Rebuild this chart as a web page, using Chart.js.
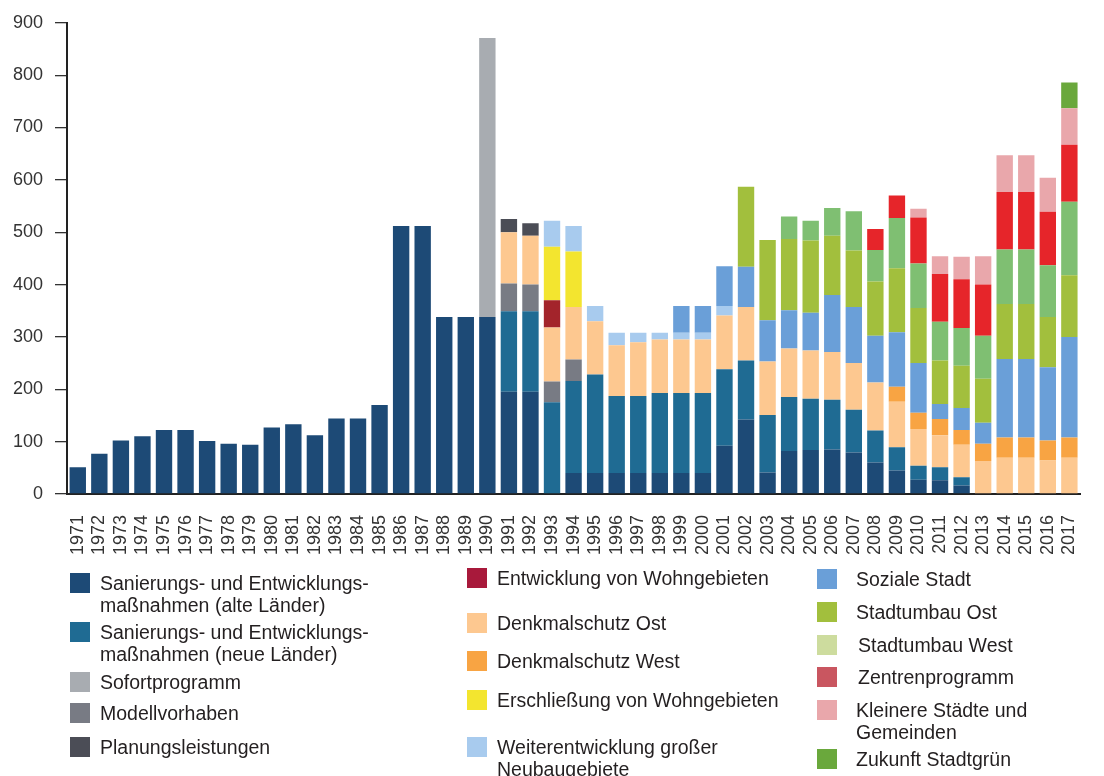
<!DOCTYPE html>
<html>
<head>
<meta charset="utf-8">
<script src="https://cdn.jsdelivr.net/npm/chart.js@4"></script>
<style>
  body { margin: 0; background: #fff; }
  #wrap { position: relative; width: 1104px; height: 776px; font-family: "Liberation Sans", Arial, sans-serif; color: #231f20; }
  #chart { position: absolute; left: 0; top: 0; }
  .item { position: absolute; }
  .sw { position: absolute; left: 0; top: 0; width: 20px; height: 20px; }
  .tx { position: absolute; top: -1px; font-size: 19.5px; line-height: 22px; white-space: nowrap; }
</style>
</head>
<body>
<div id="wrap">
  <canvas id="chart" width="1104" height="776"></canvas>
  <div id="legend"></div>
</div>
<script>
// Jahre (x-Achse)
var years = [];
for (var y = 1971; y <= 2017; y++) years.push(String(y));
var yTicks = [0, 100, 200, 300, 400, 500, 600, 700, 800, 900];

// Werte je Programm, 1971..2017
var alteLaender = [51, 77, 102, 110, 122, 122, 101, 96, 94, 127, 133, 112, 144, 144, 170, 512, 512, 338, 338, 338,
  195, 195, 0, 40, 40, 40, 40, 40, 40, 40, 92, 142, 41, 82, 84, 85, 79, 60, 45, 27, 26, 16, 0, 0, 0, 0, 0];
var neueLaender = [0, 0, 0, 0, 0, 0, 0, 0, 0, 0, 0, 0, 0, 0, 0, 0, 0, 0, 0, 0,
  154, 154, 175, 176, 188, 147, 147, 153, 153, 153, 146, 113, 110, 103, 98, 95, 82, 61, 44, 27, 25, 16, 0, 0, 0, 0, 0];
var sofortprogramm = [0, 0, 0, 0, 0, 0, 0, 0, 0, 0, 0, 0, 0, 0, 0, 0, 0, 0, 0, 533,
  0, 0, 0, 0, 0, 0, 0, 0, 0, 0, 0, 0, 0, 0, 0, 0, 0, 0, 0, 0, 0, 0, 0, 0, 0, 0, 0];
var modellvorhaben = [0, 0, 0, 0, 0, 0, 0, 0, 0, 0, 0, 0, 0, 0, 0, 0, 0, 0, 0, 0,
  53, 51, 40, 41, 0, 0, 0, 0, 0, 0, 0, 0, 0, 0, 0, 0, 0, 0, 0, 0, 0, 0, 0, 0, 0, 0, 0];
var denkmalOst = [0, 0, 0, 0, 0, 0, 0, 0, 0, 0, 0, 0, 0, 0, 0, 0, 0, 0, 0, 0,
  98, 93, 103, 100, 102, 97, 103, 102, 102, 102, 103, 102, 102, 93, 92, 91, 89, 92, 87, 70, 61, 62, 63, 69, 69, 64, 69];
var denkmalWest = [0, 0, 0, 0, 0, 0, 0, 0, 0, 0, 0, 0, 0, 0, 0, 0, 0, 0, 0, 0,
  0, 0, 0, 0, 0, 0, 0, 0, 0, 0, 0, 0, 0, 0, 0, 0, 0, 0, 29, 31, 31, 28, 33, 39, 39, 38, 39];
var entwicklungWohn = [0, 0, 0, 0, 0, 0, 0, 0, 0, 0, 0, 0, 0, 0, 0, 0, 0, 0, 0, 0,
  0, 0, 52, 0, 0, 0, 0, 0, 0, 0, 0, 0, 0, 0, 0, 0, 0, 0, 0, 0, 0, 0, 0, 0, 0, 0, 0];
var planungsleistungen = [0, 0, 0, 0, 0, 0, 0, 0, 0, 0, 0, 0, 0, 0, 0, 0, 0, 0, 0, 0,
  25, 24, 0, 0, 0, 0, 0, 0, 0, 0, 0, 0, 0, 0, 0, 0, 0, 0, 0, 0, 0, 0, 0, 0, 0, 0, 0];
var erschliessung = [0, 0, 0, 0, 0, 0, 0, 0, 0, 0, 0, 0, 0, 0, 0, 0, 0, 0, 0, 0,
  0, 0, 102, 106, 0, 0, 0, 0, 0, 0, 0, 0, 0, 0, 0, 0, 0, 0, 0, 0, 0, 0, 0, 0, 0, 0, 0];
var weiterentwicklung = [0, 0, 0, 0, 0, 0, 0, 0, 0, 0, 0, 0, 0, 0, 0, 0, 0, 0, 0, 0,
  0, 0, 50, 49, 29, 24, 18, 13, 13, 13, 18, 0, 0, 0, 0, 0, 0, 0, 0, 0, 0, 0, 0, 0, 0, 0, 0];
var sozialeStadt = [0, 0, 0, 0, 0, 0, 0, 0, 0, 0, 0, 0, 0, 0, 0, 0, 0, 0, 0, 0,
  0, 0, 0, 0, 0, 0, 0, 0, 51, 51, 76, 77, 79, 73, 72, 109, 107, 89, 104, 95, 29, 42, 40, 150, 150, 140, 192];
var stadtumbauOst = [0, 0, 0, 0, 0, 0, 0, 0, 0, 0, 0, 0, 0, 0, 0, 0, 0, 0, 0, 0,
  0, 0, 0, 0, 0, 0, 0, 0, 0, 0, 0, 153, 153, 136, 138, 113, 108, 104, 122, 105, 83, 81, 84, 105, 105, 96, 118];
var stadtumbauWest = [0, 0, 0, 0, 0, 0, 0, 0, 0, 0, 0, 0, 0, 0, 0, 0, 0, 0, 0, 0,
  0, 0, 0, 0, 0, 0, 0, 0, 0, 0, 0, 0, 0, 43, 38, 53, 75, 60, 96, 85, 74, 72, 82, 104, 104, 99, 140];
var zentrenprogramm = [0, 0, 0, 0, 0, 0, 0, 0, 0, 0, 0, 0, 0, 0, 0, 0, 0, 0, 0, 0,
  0, 0, 0, 0, 0, 0, 0, 0, 0, 0, 0, 0, 0, 0, 0, 0, 0, 40, 43, 88, 91, 93, 98, 110, 110, 102, 109];
var kleinereStaedte = [0, 0, 0, 0, 0, 0, 0, 0, 0, 0, 0, 0, 0, 0, 0, 0, 0, 0, 0, 0,
  0, 0, 0, 0, 0, 0, 0, 0, 0, 0, 0, 0, 0, 0, 0, 0, 0, 0, 0, 17, 34, 43, 54, 70, 70, 65, 70];
var zukunftStadtgruen = [0, 0, 0, 0, 0, 0, 0, 0, 0, 0, 0, 0, 0, 0, 0, 0, 0, 0, 0, 0,
  0, 0, 0, 0, 0, 0, 0, 0, 0, 0, 0, 0, 0, 0, 0, 0, 0, 0, 0, 0, 0, 0, 0, 0, 0, 0, 49];

// Stapelreihenfolge von unten nach oben
var series = [
  { label: 'Sanierungs- und Entwicklungsmaßnahmen (alte Länder)', data: alteLaender, color: '#1d4a76' },
  { label: 'Sanierungs- und Entwicklungsmaßnahmen (neue Länder)', data: neueLaender, color: '#1f6b93' },
  { label: 'Sofortprogramm', data: sofortprogramm, color: '#a8acb1' },
  { label: 'Modellvorhaben', data: modellvorhaben, color: '#787b84' },
  { label: 'Denkmalschutz Ost', data: denkmalOst, color: '#fdc890' },
  { label: 'Denkmalschutz West', data: denkmalWest, color: '#f8a443' },
  { label: 'Entwicklung von Wohngebieten', data: entwicklungWohn, color: '#a3242b' },
  { label: 'Planungsleistungen', data: planungsleistungen, color: '#4b4d56' },
  { label: 'Erschließung von Wohngebieten', data: erschliessung, color: '#f3e52f' },
  { label: 'Weiterentwicklung großer Neubaugebiete', data: weiterentwicklung, color: '#a8cbee' },
  { label: 'Soziale Stadt', data: sozialeStadt, color: '#6a9fd8' },
  { label: 'Stadtumbau Ost', data: stadtumbauOst, color: '#a2bf3d' },
  { label: 'Stadtumbau West', data: stadtumbauWest, color: '#7fbf72' },
  { label: 'Zentrenprogramm', data: zentrenprogramm, color: '#e6252a' },
  { label: 'Kleinere Städte und Gemeinden', data: kleinereStaedte, color: '#e9a7ab' },
  { label: 'Zukunft Stadtgrün', data: zukunftStadtgruen, color: '#6aa83c' }
];

var datasets = series.map(function (s) {
  return {
    label: s.label,
    data: s.data,
    backgroundColor: s.color,
    borderWidth: 0,
    barPercentage: 0.76,
    categoryPercentage: 1.0
  };
});

var font = { family: '"Liberation Sans", Arial, sans-serif', size: 18 };

new Chart(document.getElementById('chart'), {
  type: 'bar',
  data: { labels: years, datasets: datasets },
  options: {
    responsive: false,
    animation: false,
    devicePixelRatio: 1,
    layout: { padding: { left: 5, right: 3, top: 14, bottom: 208 } },
    plugins: { legend: { display: false }, tooltip: { enabled: false } },
    scales: {
      x: {
        stacked: true,
        grid: { display: false },
        border: { display: true, color: '#222', width: 2 },
        ticks: { color: '#333', font: font, minRotation: 90, maxRotation: 90, autoSkip: false, padding: 13 }
      },
      y: {
        stacked: true,
        min: 0,
        max: 900,
        afterBuildTicks: function (scale) {
          scale.ticks = yTicks.map(function (v) { return { value: v }; });
        },
        afterFit: function (scale) { scale.width = 62; },
        grid: { drawOnChartArea: false, drawTicks: true, tickLength: 12, color: '#333', lineWidth: 1.3 },
        border: { display: true, color: '#222', width: 2 },
        ticks: { color: '#333', font: font, padding: 12 }
      }
    }
  }
});

// Legende (HTML, drei Spalten wie im Original)
var legendItems = [
  { x: 70, y: 573, text: 'Sanierungs- und Entwicklungs-<br>maßnahmen (alte Länder)', color: '#1d4a76', dx: 30 },
  { x: 70, y: 622, text: 'Sanierungs- und Entwicklungs-<br>maßnahmen (neue Länder)', color: '#1f6b93', dx: 30 },
  { x: 70, y: 672, text: 'Sofortprogramm', color: '#a8acb1', dx: 30 },
  { x: 70, y: 703, text: 'Modellvorhaben', color: '#787b84', dx: 30 },
  { x: 70, y: 737, text: 'Planungsleistungen', color: '#4b4d56', dx: 30 },
  { x: 467, y: 568, text: 'Entwicklung von Wohngebieten', color: '#a8193b', dx: 30 },
  { x: 467, y: 613, text: 'Denkmalschutz Ost', color: '#fdc890', dx: 30 },
  { x: 467, y: 651, text: 'Denkmalschutz West', color: '#f8a443', dx: 30 },
  { x: 467, y: 690, text: 'Erschließung von Wohngebieten', color: '#f3e52f', dx: 30 },
  { x: 467, y: 737, text: 'Weiterentwicklung großer<br>Neubaugebiete', color: '#a8cbee', dx: 30 },
  { x: 817, y: 569, text: 'Soziale Stadt', color: '#6a9fd8', dx: 39 },
  { x: 817, y: 602, text: 'Stadtumbau Ost', color: '#a2bf3d', dx: 39 },
  { x: 817, y: 635, text: 'Stadtumbau West', color: '#cddc9e', dx: 41 },
  { x: 817, y: 667, text: 'Zentrenprogramm', color: '#c95660', dx: 41 },
  { x: 817, y: 700, text: 'Kleinere Städte und<br>Gemeinden', color: '#e9a7ab', dx: 39 },
  { x: 817, y: 749, text: 'Zukunft Stadtgrün', color: '#6aa83c', dx: 39 }
];

var legend = document.getElementById('legend');
legendItems.forEach(function (it) {
  var d = document.createElement('div');
  d.className = 'item';
  d.style.left = it.x + 'px';
  d.style.top = it.y + 'px';
  d.innerHTML = '<div class="sw" style="background:' + it.color + '"></div>' +
    '<div class="tx" style="left:' + it.dx + 'px">' + it.text + '</div>';
  legend.appendChild(d);
});
</script>
</body>
</html>
